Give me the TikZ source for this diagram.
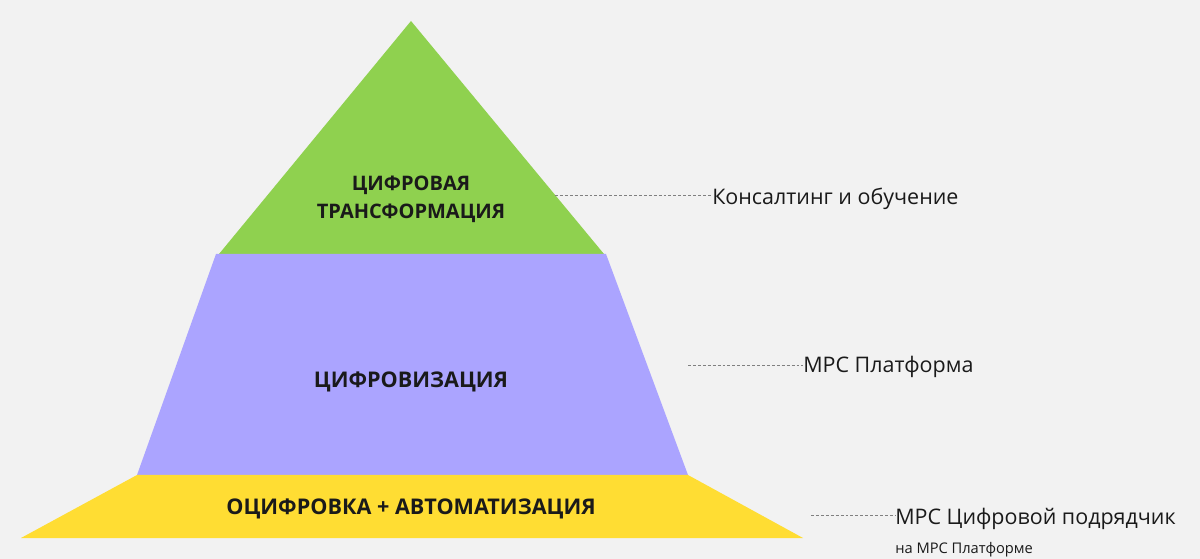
\documentclass[tikz,border=0pt]{standalone}
\usepackage{fontspec}
\setmainfont{Open Sans}
\usetikzlibrary{positioning}
\definecolor{bgGray}{HTML}{F2F2F2}
\definecolor{layerGreen}{HTML}{8FD14F}
\definecolor{layerViolet}{HTML}{ABA4FF}
\definecolor{layerYellow}{HTML}{FFDD33}
\definecolor{textDark}{HTML}{1A1A1A}

\begin{document}
\begin{tikzpicture}[x=0.75pt, y=-0.75pt,
    layer/.style={font=\bfseries\fontsize{16.2}{21.5}\selectfont, text=textDark, align=center},
    side/.style={font=\fontsize{16.1}{18}\selectfont, anchor=west, inner sep=0pt, text=textDark},
    note/.style={font=\fontsize{11}{12}\selectfont, anchor=west, inner sep=0pt, text=textDark},
    leader/.style={gray, dash pattern=on 2.2pt off 1.5pt, line width=0.5pt}]
    \fill[bgGray] (0,0) rectangle (1200,559);
    \useasboundingbox (0,0) rectangle (1200,559);

    % pyramid layers
    \fill[layerGreen] (411,21) -- (604,254) -- (219,254) -- cycle;
    \fill[layerViolet] (216,254) -- (606,254) -- (688,475) -- (137,475) -- cycle;
    \fill[layerYellow] (137,475) -- (688,475) -- (803,538) -- (21,538) -- cycle;

    \node[layer, font=\bfseries\fontsize{15}{21}\selectfont] (trans) at (411,199) {ЦИФРОВАЯ\\ТРАНСФОРМАЦИЯ};
    \node[layer] (digit) at (411,382) {ЦИФРОВИЗАЦИЯ};
    \node[layer] (autom) at (411,509) {ОЦИФРОВКА + АВТОМАТИЗАЦИЯ};

    % side labels
    \node[side] (consult) at (712,199) {Консалтинг и обучение};
    \node[side] (platform) at (803,367) {МРС Платформа};
    \node[side] (contractor) at (895,519) {МРС Цифровой подрядчик};
    \node[note] (contractorNote) at (895,550) {на МРС Платформе};

    \coordinate (consultFrom) at (555,195);
    \coordinate (platformFrom) at (688,365);
    \coordinate (contractorFrom) at (811,515);
    \draw[leader] (consultFrom) -- (consultFrom -| consult.west);
    \draw[leader] (platformFrom) -- (platformFrom -| platform.west);
    \draw[leader] (contractorFrom) -- (contractorFrom -| contractor.west);
\end{tikzpicture}
\end{document}
